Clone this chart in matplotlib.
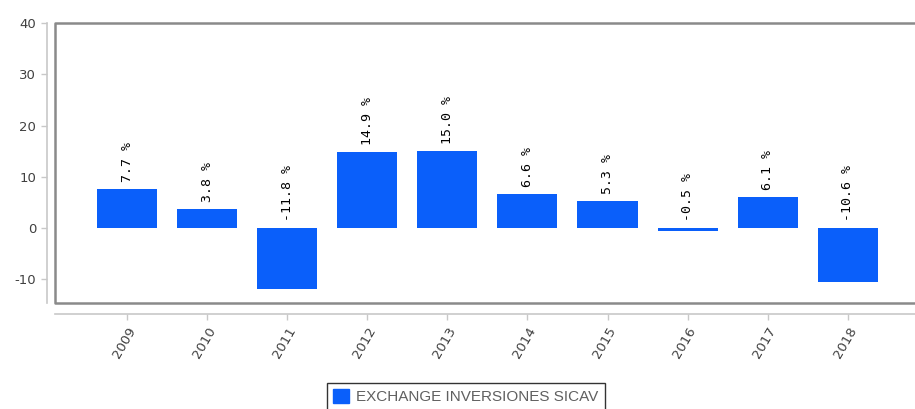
import matplotlib.pyplot as plt
from matplotlib.patches import Patch

plt.rcParams['axes.unicode_minus'] = False

years = ['2009', '2010', '2011', '2012', '2013', '2014', '2015', '2016', '2017', '2018']
returns = [7.7, 3.8, -11.8, 14.9, 15.0, 6.6, 5.3, -0.5, 6.1, -10.6]
series_name = 'EXCHANGE INVERSIONES SICAV'

bar_color = '#0a5ffa'
W, H = 915, 409

fig = plt.figure(figsize=(W / 100, H / 100), dpi=100)
ax = fig.add_axes([55 / W, 1 - 303 / H, 1 - 55 / W, (303 - 23) / H])

x = list(range(len(years)))
ax.bar(x, returns, width=0.75, color=bar_color, zorder=2)

# value labels, always above the bar top or the zero line
for xi, v in zip(x, returns):
    y0 = max(v, 0)
    ax.annotate('%.1f %%' % v, (xi, y0), xytext=(0, 5), textcoords='offset points',
                rotation=90, ha='center', va='bottom', fontsize=9.5,
                family='DejaVu Sans Mono', color='black')

ax.set_xlim(-0.9, 9.84)
ax.set_ylim(-14.6, 40)
ax.set_yticks([-10, 0, 10, 20, 30, 40])
ax.set_xticks(x)
ax.set_xticklabels(years)

# axis lines sit outside the plot box
for s in ['top', 'right']:
    ax.spines[s].set_visible(False)
ax.spines['left'].set_position(('outward', 6))
ax.spines['bottom'].set_position(('outward', 8))
ax.spines['left'].set_bounds(-14.6, 40)
ax.spines['bottom'].set_bounds(-0.9, 9.84)
for s in ['left', 'bottom']:
    ax.spines[s].set_color('#c8c8c8')
    ax.spines[s].set_linewidth(1.2)
ax.tick_params(axis='both', colors='#c8c8c8', length=4, width=1,
               labelcolor='#404040', labelsize=9.5)
plt.setp(ax.get_xticklabels(), rotation=60, ha='right', rotation_mode='anchor')

# plot box (no right side)
ax.plot([1, 0, 0, 1], [1, 1, 0, 0], transform=ax.transAxes, color='#8a8a8a',
        lw=1.8, clip_on=False, zorder=3)

handle = Patch(facecolor=bar_color, edgecolor=bar_color)
leg = fig.legend([handle], [series_name], loc='upper center',
                 bbox_to_anchor=(466 / W, 1 - 383 / H), borderaxespad=0,
                 frameon=True, fancybox=False, handlelength=1.0,
                 handleheight=1.0, handletextpad=0.5, borderpad=0.4,
                 prop={'family': 'Liberation Sans', 'size': 11})
leg.get_frame().set_edgecolor('black')
leg.get_frame().set_linewidth(1.0)
for t in leg.get_texts():
    t.set_color('#606060')

fig.savefig('out.png', dpi=100)
